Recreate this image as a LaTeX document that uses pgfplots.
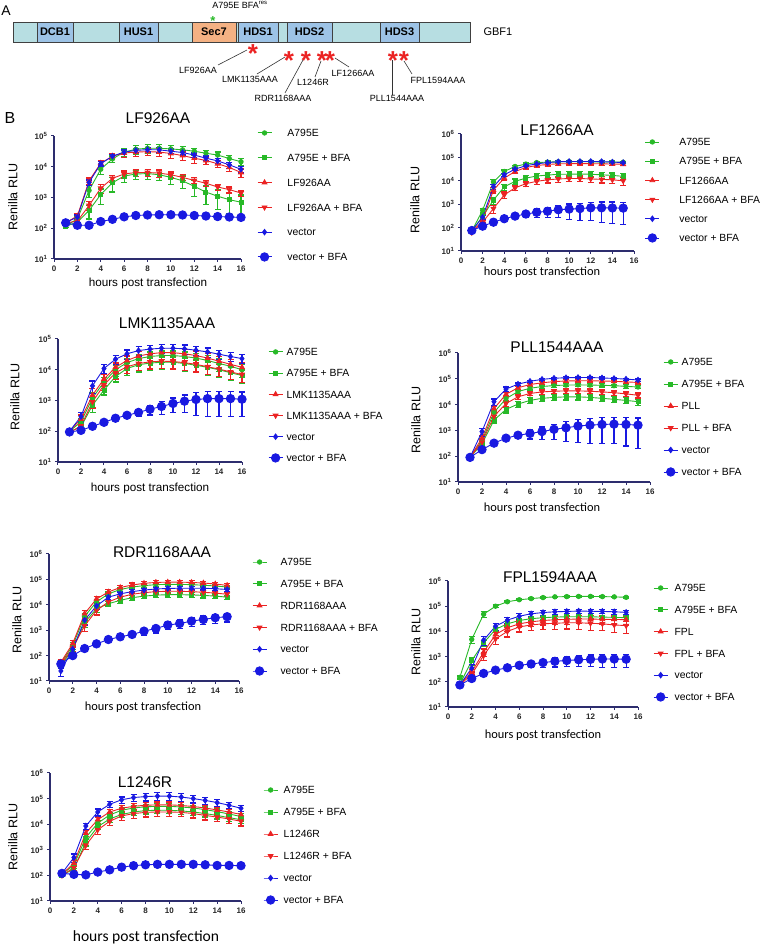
\documentclass[border=0pt]{standalone}
\usepackage{pgfplots}
\usepackage{pgfplotstable}
\pgfplotsset{compat=1.18}
\usepackage{fontspec}
\setmainfont{Liberation Sans}
\newfontfamily\calib{Carlito}

\definecolor{cg}{RGB}{40,185,40}
\definecolor{cr}{RGB}{235,35,35}
\definecolor{cb}{RGB}{25,25,225}
\definecolor{cax}{RGB}{45,45,110}
\definecolor{barfill}{RGB}{183,222,226}
\definecolor{dom}{RGB}{157,195,230}
\definecolor{sec}{RGB}{244,177,131}

% columns: g=A795E, h=A795E+BFA, m=mutant, n=mutant+BFA, v=vector, w=vector+BFA; e* = error
\pgfplotstableread{
x g eg h eh m em n en v ev w ew
1 120 15 115 12 150 15 150 15 155 15 150 10
2 200 50 160 30 250 60 170 30 230 40 125 8
3 1700 700 380 180 3500 800 550 180 3100 600 125 8
4 8300 2700 1250 650 13000 2700 2000 650 12500 2000 165 10
5 18000 4500 3000 1500 22000 4500 4200 1100 22000 3000 195 12
6 30000 9000 5000 2000 28000 8000 5800 1500 30000 5000 235 15
7 37000 11000 5800 2000 30000 8000 6500 1700 34000 5500 260 15
8 40000 12000 6000 2100 31000 8000 6500 1700 36000 6000 270 15
9 40000 12000 5500 2000 30000 9000 6200 1600 35500 6000 275 15
10 38000 11000 4500 1800 27000 8000 5500 1200 32000 5500 275 15
11 35500 10000 3500 1500 23000 7000 4500 1000 29000 5000 270 15
12 32000 8000 2300 1200 19000 6000 3600 800 24000 4000 260 15
13 27500 7000 1500 900 16000 4500 2900 650 19000 3500 250 12
14 24000 6000 1100 700 12500 3000 2200 500 15500 3000 240 12
15 18500 4500 850 550 9500 2500 1800 400 11500 2500 232 12
16 14500 3500 700 500 6500 2000 1400 300 8300 2000 225 10
}\tB
\pgfplotstableread{
x g eg h eh m em n en v ev w ew
1 72 5 70 5 65 5 62 5 75 5 75 6
2 550 130 300 70 200 40 170 35 280 60 115 12
3 9000 2000 1500 500 4000 1000 650 250 5600 1400 170 20
4 25000 4000 5500 1500 13000 2500 2500 800 18000 2800 240 35
5 41000 5000 9500 2500 25000 4000 5000 1300 31500 4000 310 60
6 52000 6000 13000 3500 37000 5000 7500 2000 44000 4500 380 110
7 60000 7000 16000 4000 45000 6000 9500 2500 53000 5000 450 170
8 63000 7000 17500 4500 50000 7000 11000 3000 60000 6000 500 230
9 65000 7000 19000 5000 53000 7000 12000 3500 65000 6000 580 300
10 66000 7000 19000 5000 54000 7000 12500 3500 67000 6000 620 400
11 66000 7000 19500 5000 54000 7000 12500 3500 67000 6000 650 450
12 65000 7000 19000 5000 54000 7000 12000 3500 67000 6000 700 500
13 64000 7000 18000 5000 53000 7000 11500 3500 66000 6000 700 530
14 63000 7000 17000 4500 52000 7000 11000 3500 63000 6000 690 540
15 62000 7000 15500 4500 51000 7000 10000 3500 60000 6000 680 540
}\tC
\pgfplotstableread{
x g eg h eh m em n en v ev w ew
1 100 10 95 10 100 10 90 10 100 10 95 8
2 200 60 140 35 250 90 150 40 300 100 107 8
3 1200 600 700 300 1500 900 900 350 3000 1300 145 10
4 4000 1600 2200 700 5000 2000 3200 1100 11000 3500 195 15
5 10000 4000 6000 2000 12000 4500 8000 3000 22000 7000 265 25
6 17000 6500 11000 4500 20000 8000 12500 5000 33000 11000 330 50
7 23000 9000 14500 6000 28000 11000 16000 6500 42000 14000 410 100
8 27000 11000 16500 7000 33000 13000 18000 7500 47000 16000 520 180
9 29000 12000 17500 7500 36000 14000 19000 8000 50000 17000 640 280
10 29000 12000 17500 7500 36000 14000 18500 8000 50000 17000 800 400
11 27000 11000 16000 7000 33000 13000 17000 7500 48000 16000 950 550
12 24000 10000 14000 6000 29000 12000 15000 6500 43000 14000 1080 750
13 20000 8500 12000 5500 24000 10000 12500 5500 38000 13000 1150 850
14 16000 7000 10000 4500 19000 8000 10500 4500 32000 11000 1150 850
15 13000 5500 8000 3500 15000 6500 8500 3800 27000 9000 1150 850
16 10000 4500 6500 3000 12000 5000 7000 3200 23000 7500 1100 800
}\tD
\pgfplotstableread{
x g eg h eh m em n en v ev w ew
1 90 5 90 5 90 5 90 5 90 5 90 8
2 400 100 300 70 500 120 350 90 900 300 180 20
3 5000 1200 2500 700 7000 1700 3500 1200 13000 3500 320 50
4 17000 3500 6500 1800 25000 5000 11000 3000 40000 8000 500 90
5 32000 5000 10500 2800 45000 6000 20000 4000 62000 7000 650 180
6 43000 6500 14500 3800 60000 8000 27000 5000 80000 8000 760 300
7 50000 7000 17500 4500 70000 8500 31000 6000 95000 9000 900 450
8 55000 8000 19000 5000 78000 9000 33000 6500 105000 10000 1100 650
9 57000 8000 20000 5000 82000 9000 34000 7000 110000 10000 1260 900
10 58000 8000 20000 5000 84000 9000 34000 7000 112000 10000 1480 1150
11 57000 8000 19000 5000 84000 9000 33000 7000 112000 10000 1600 1300
12 56000 8000 17500 4500 82000 9000 31000 6500 108000 10000 1700 1400
13 54000 8000 16000 4000 80000 9000 29000 6000 103000 10000 1750 1450
14 51000 7500 14500 3800 76000 9000 26000 5500 97000 9000 1700 1450
15 48000 7000 13000 3500 72000 9000 23000 5000 90000 9000 1600 1400
}\tE
\pgfplotstableread{
x g eg h eh m em n en v ev w ew
1 50 10 40 8 55 12 45 10 25 10 47 15
2 250 70 180 50 300 90 200 60 180 50 100 15
3 3500 1200 2000 700 4500 1500 1500 600 2500 900 190 30
4 13000 3000 7000 2000 17000 4500 6000 2000 9000 2500 290 35
5 27000 5000 11000 2500 32000 7000 13000 3500 20000 4000 430 60
6 40000 7000 15000 3500 48000 9000 20000 5000 27000 5000 550 100
7 50000 8000 19000 4000 60000 12000 26000 6000 33000 6000 680 170
8 57000 9000 22000 4500 70000 14000 30000 7000 38000 7000 920 280
9 62000 9000 24000 5000 76000 15000 33000 7000 42000 7000 1170 400
10 64000 9000 25000 5000 78000 15000 34000 7000 44000 7000 1600 550
11 64000 9000 25000 5000 78000 14000 34000 7000 45000 7000 1830 700
12 62000 9000 24500 5000 76000 13000 33000 7000 45000 7000 2280 900
13 59000 9000 23500 5000 72000 12000 31000 6500 45000 7000 2650 1000
14 55000 8000 22000 4500 66000 11000 29000 6000 43000 6500 3100 1200
15 50000 8000 20000 4000 58000 10000 26000 5500 40000 6000 3400 1300
}\tF
\pgfplotstableread{
x g eg h eh m em n en v ev w ew
1 150 20 80 10 80 10 75 8 75 8 75 8
2 4800 1500 700 250 250 60 200 50 350 120 135 15
3 48000 12000 3500 1000 1500 500 1100 400 4500 1800 215 25
4 100000 12000 12000 2500 7500 2000 5000 2000 16000 5000 290 40
5 150000 12000 20000 4000 14000 4000 10000 4000 28000 8000 360 80
6 180000 12000 27000 5000 20000 6000 15000 5500 40000 10000 450 110
7 200000 12000 32000 5500 24000 8000 18000 7000 50000 11000 510 150
8 220000 12000 35000 6000 27000 9000 20000 8000 56000 12000 580 200
9 235000 12000 37000 6000 29000 10000 21000 9000 60000 12000 650 260
10 240000 12000 38000 6000 30000 11000 22000 9500 62000 12000 700 300
11 245000 12000 38000 6000 31000 11000 22000 10000 64000 12000 750 350
12 245000 12000 38000 6000 31000 11000 21000 10000 63000 12000 780 380
13 240000 12000 37000 6000 30000 11000 20000 9500 62000 12000 800 420
14 235000 12000 36000 6000 30000 11000 18000 9000 60000 12000 800 430
15 225000 12000 35000 6000 29000 11000 17000 8500 57000 11000 790 430
}\tG
\pgfplotstableread{
x g eg h eh m em n en v ev w ew
1 110 10 100 10 110 10 100 10 120 12 120 10
2 250 60 180 40 300 80 200 50 500 180 110 8
3 3000 900 2000 600 4500 1300 1500 500 8500 2500 105 8
4 11000 2500 8000 2000 15000 4000 6000 2000 30000 9000 135 10
5 23000 5000 16000 4000 30000 7000 13000 4000 60000 15000 165 12
6 35000 8000 24000 6000 42000 10000 21000 7000 90000 25000 210 15
7 43000 10000 30000 8000 50000 14000 26000 9000 110000 35000 240 20
8 48000 12000 34000 9000 55000 16000 29000 10000 120000 40000 260 20
9 50000 13000 35000 9000 57000 17000 30000 10000 125000 42000 270 20
10 50000 13000 35000 9000 57000 17000 30000 10000 125000 42000 270 20
11 47000 12000 33000 9000 54000 16000 29000 9500 115000 38000 270 20
12 43000 11000 30000 8000 49000 15000 26000 8500 100000 33000 270 20
13 37000 10000 26000 7000 43000 13000 22000 7500 85000 27000 260 20
14 31000 8000 22000 6000 36000 11000 19000 6500 70000 20000 245 20
15 25000 7000 18000 5000 30000 9000 16000 5500 55000 15000 245 18
16 20000 6000 15000 4500 24000 7000 13000 4500 42000 10000 240 15
}\tH

% common settings for all seven panels
\pgfplotsset{
  scale only axis, xmin=0, xmax=16, ymin=10, clip=false,
  axis x line*=bottom, axis y line*=left,
  axis line style={cax, line width=1.2pt, -},
  xtick={0,2,...,16},
  ytick={10,100,1000,10000,100000,1000000},
  yticklabels={10\textsuperscript{1},10\textsuperscript{2},10\textsuperscript{3},10\textsuperscript{4},10\textsuperscript{5},10\textsuperscript{6}},
  yminorticks=false,
  tick align=outside, major tick length=3pt,
  tick style={cax, line width=1pt},
  tick label style={font=\fontsize{8}{9}\selectfont\bfseries, text=black!85},
  every axis plot/.append style={line width=0.9pt},
  error bars/y dir=both, error bars/y explicit,
  error bars/error bar style={line width=1.2pt},
  error bars/error mark options={rotate=90, line width=1.2pt, mark size=3pt},
  legend cell align=left,
  legend image code/.code={\draw[mark repeat=2,mark phase=2] plot coordinates {(0pt,0pt) (7pt,0pt) (14pt,0pt)};},
  legend style={draw=none, fill=none, inner sep=0pt, anchor=north west,
    font=\fontsize{10.4}{12}\selectfont,
    nodes={inner sep=0.5pt, text height=7.5pt, text depth=0pt}},
  sG/.style={cg, mark=*, mark size=2.2pt},
  sH/.style={cg, mark=square*, mark size=2pt},
  sM/.style={cr, mark=triangle*, mark size=2.7pt},
  sN/.style={cr, mark=triangle*, mark size=2.7pt, mark options={rotate=180}},
  sV/.style={cb, mark=diamond*, mark size=2.7pt},
  sW/.style={cb, mark=*, mark size=4.2pt},
}
\pgfkeys{/pgf/number format/assume math mode=true}
\newcommand{\ser}[3]{\addplot[#1] table[x=x, y=#3, y error=e#3] {#2};}
\newcommand{\six}[1]{\ser{sG}{#1}{g}\ser{sH}{#1}{h}\ser{sM}{#1}{m}\ser{sN}{#1}{n}\ser{sV}{#1}{v}\ser{sW}{#1}{w}}

\begin{document}
\begin{tikzpicture}[x=1pt,y=1pt]
\path[use as bounding box] (0,0) rectangle (760,945);

% ---- panel A: domain map
\node[font=\fontsize{14}{14}\selectfont] at (6,934) {A};
\draw[black!75, line width=0.8pt, fill=barfill] (13,903) rectangle (470,923);
\begin{scope}[black!75, line width=0.8pt]
  \draw[fill=dom] (37,903) rectangle (73,923);
  \draw[fill=dom] (119,903) rectangle (158,923);
  \draw[fill=sec] (192,903) rectangle (236,923);
  \draw[fill=dom] (238,903) rectangle (278,923);
  \draw[fill=dom] (287,903) rectangle (332,923);
  \draw[fill=dom] (380,903) rectangle (419,923);
\end{scope}
\begin{scope}[font=\fontsize{11}{11}\selectfont\bfseries]
  \node at (55,913) {DCB1};
  \node at (138.5,913) {HUS1};
  \node at (214,913) {Sec7};
  \node at (258,913) {HDS1};
  \node at (309.5,913) {HDS2};
  \node at (399.5,913) {HDS3};
\end{scope}
\node[anchor=west, font=\fontsize{11}{11}\selectfont] at (480,913) {GBF1};
\node[font=\fontsize{9}{9}\selectfont] at (240,940) {A795E BFA\textsuperscript{res}};
\node[anchor=base, text=cg, font=\fontsize{13}{13}\selectfont\bfseries] at (213,919) {*};
\begin{scope}[text=cr, font=\fontsize{26}{26}\selectfont\bfseries]
  \foreach \sx/\sy in {253/48, 289/55, 306/55, 322/55, 330/55, 393/55, 404/55}
    \node[anchor=base] at (\sx,945-\sy-14.5) {*};
\end{scope}
\begin{scope}[black!80, line width=0.6pt]
  \draw (218,880) -- (247,895);
  \draw (257,871) -- (285,888);
  \draw (285,852) -- (303,885);
  \draw (315,868) -- (321,884);
  \draw (349,878) -- (335,887);
  \draw (392,850) -- (392,885);
  \draw (412,871) -- (404,884);
\end{scope}
\begin{scope}[font=\fontsize{9}{9}\selectfont]
  \node at (198,875) {LF926AA};
  \node at (250,866) {LMK1135AAA};
  \node at (283,847) {RDR1168AAA};
  \node at (313,863) {L1246R};
  \node at (353,872) {LF1266AA};
  \node at (397,847) {PLL1544AAA};
  \node at (438,865) {FPL1594AAA};
\end{scope}

% ---- panel B label
\node[font=\fontsize{16}{16}\selectfont] at (10,827) {B};

% ---- titles and axis labels
\begin{scope}[font=\fontsize{15.5}{16}\selectfont]
  \node at (158,827) {LF926AA};
  \node at (557,815) {LF1266AA};
  \node at (167,622) {LMK1135AAA};
  \node at (557,598) {PLL1544AAA};
  \node at (162,393) {RDR1168AAA};
  \node at (550,368) {FPL1594AAA};
  \node at (145,163) {L1246R};
\end{scope}
\begin{scope}[font=\fontsize{12.5}{13}\selectfont]
  \node[rotate=90] at (13,748) {Renilla RLU};
  \node[rotate=90] at (415,745) {Renilla RLU};
  \node[rotate=90] at (15,548) {Renilla RLU};
  \node[rotate=90] at (416,525) {Renilla RLU};
  \node[rotate=90] at (17,325) {Renilla RLU};
  \node[rotate=90] at (416,303) {Renilla RLU};
  \node[rotate=90] at (13,108) {Renilla RLU};
\end{scope}
\node[font=\fontsize{11.7}{12}\selectfont] at (148,662) {hours post transfection};
\node[font=\fontsize{11.7}{12}\selectfont] at (150,457) {hours post transfection};
\begin{scope}[font=\calib\fontsize{12.4}{13}\selectfont]
  \node at (542,673) {hours post transfection};
  \node at (542,437) {hours post transfection};
  \node at (143,238) {hours post transfection};
  \node at (543,210) {hours post transfection};
\end{scope}
\node[font=\calib\fontsize{15.6}{16}\selectfont] at (146,8) {hours post transfection};

% ---- B: LF926AA
\begin{axis}[ymode=log, at={(54pt,686pt)}, anchor=south west, width=187pt, height=123pt, ymax=1e5,
  legend style={at={(1.085,1.061)}, row sep=16.3pt, column sep=15pt}]
\six{\tB}
\legend{A795E, A795E + BFA, LF926AA, LF926AA + BFA, vector, vector + BFA}
\end{axis}
% ---- C: LF1266AA
\begin{axis}[ymode=log, at={(461pt,694pt)}, anchor=south west, width=173pt, height=117pt, ymax=1e6,
  legend style={at={(1.062,0.970)}, row sep=10.7pt, column sep=19pt}]
\six{\tC}
\legend{A795E, A795E + BFA, LF1266AA, LF1266AA + BFA, vector, vector + BFA}
\end{axis}
% ---- D: LMK1135AAA
\begin{axis}[ymode=log, at={(58pt,483pt)}, anchor=south west, width=184pt, height=123pt, ymax=1e5,
  legend style={at={(1.141,0.931)}, row sep=12.7pt, column sep=3pt}]
\six{\tD}
\legend{A795E, A795E + BFA, LMK1135AAA, LMK1135AAA + BFA, vector, vector + BFA}
\end{axis}
% ---- E: PLL1544AAA
\begin{axis}[ymode=log, at={(458pt,463pt)}, anchor=south west, width=192pt, height=129pt, ymax=1e6,
  legend style={at={(1.068,0.965)}, row sep=13.5pt, column sep=3pt}]
\six{\tE}
\legend{A795E, A795E + BFA, PLL, PLL + BFA, vector, vector + BFA}
\end{axis}
% ---- F: RDR1168AAA
\begin{axis}[ymode=log, at={(49pt,264pt)}, anchor=south west, width=190pt, height=127pt, ymax=1e6,
  legend style={at={(1.068,0.972)}, row sep=13.3pt, column sep=13pt}]
\six{\tF}
\legend{A795E, A795E + BFA, RDR1168AAA, RDR1168AAA + BFA, vector, vector + BFA}
\end{axis}
% ---- G: FPL1594AAA
\begin{axis}[ymode=log, at={(448pt,238pt)}, anchor=south west, width=190pt, height=126pt, ymax=1e6,
  legend style={at={(1.079,0.980)}, row sep=13.3pt, column sep=6pt}]
\six{\tG}
\legend{A795E, A795E + BFA, FPL, FPL + BFA, vector, vector + BFA}
\end{axis}
% ---- H: L1246R
\begin{axis}[ymode=log, at={(50pt,44pt)}, anchor=south west, width=191pt, height=128pt, ymax=1e6,
  legend style={at={(1.115,0.902)}, row sep=13.5pt, column sep=5pt}]
\six{\tH}
\legend{A795E, A795E + BFA, L1246R, L1246R + BFA, vector, vector + BFA}
\end{axis}
\end{tikzpicture}
\end{document}
